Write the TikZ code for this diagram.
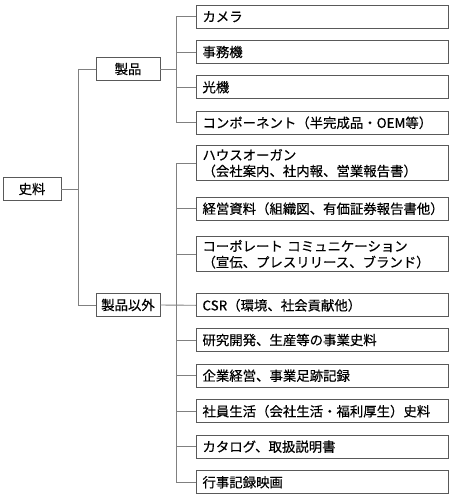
\documentclass[tikz,border=0pt]{standalone}
\usepackage{fontspec}
\setmainfont{Noto Sans CJK JP}[FakeBold=0.4]
\begin{document}
\begin{tikzpicture}[x=1pt,y=-1pt,
  box/.style={draw=black!65, line width=0.9pt, outer sep=0pt, font=\fontsize{13.4}{16}\selectfont, inner sep=0pt},
  leaf/.style={box, anchor=west, text width=239pt, inner xsep=6.5pt, minimum height=23pt, align=left},
  tall/.style={leaf, minimum height=35pt},
  mid/.style={box, minimum width=64pt, minimum height=22.5pt, align=center},
  conn/.style={draw=black!50, line width=0.9pt}]
\useasboundingbox (0,0) rectangle (450,503);
% root and groups
\node[box, minimum width=58pt, minimum height=23.5pt] (root) at (32,189) {史料};
\node[mid] (g1) at (128,69) {製品};
\node[mid] (g2) at (128,305) {製品以外};
% leaves of group 1
\node[leaf] (a1) at (196,16.7) {カメラ};
\node[leaf] (a2) at (196,52) {事務機};
\node[leaf] (a3) at (196,87.2) {光機};
\node[leaf] (a4) at (196,122.8) {コンポーネント（半完成品・OEM等）};
% leaves of group 2
\node[tall] (b1) at (196,163.2) {ハウスオーガン\\（会社案内、社内報、営業報告書）};
\node[leaf] (b2) at (196,208.7) {経営資料（組織図、有価証券報告書他）};
\node[tall] (b3) at (196,254.2) {コーポレート コミュニケーション\\（宣伝、プレスリリース、ブランド）};
\node[leaf] (b4) at (196,305.3) {CSR（環境、社会貢献他）};
\node[leaf] (b5) at (196,340) {研究開発、生産等の事業史料};
\node[leaf] (b6) at (196,375.7) {企業経営、事業足跡記録};
\node[leaf] (b7) at (196,411.3) {社員生活（会社生活・福利厚生）史料};
\node[leaf] (b8) at (196,446.7) {カタログ、取扱説明書};
\node[leaf] (b9) at (196,482.3) {行事記録映画};
% trunk coordinates
\coordinate (t0) at (78.3,0);
\coordinate (t1) at (176,0);
% root connectors
\draw[conn] (root.east) -- (root.east -| t0);
\draw[conn] (t0 |- g1.west) -- (t0 |- g2.west);
\draw[conn] (t0 |- g1.west) -- (g1.west);
\draw[conn] (t0 |- g2.west) -- (g2.west);
% group 1 connectors
\draw[conn] (g1.east) -- (g1.east -| t1);
\draw[conn] (t1 |- a1.west) -- (t1 |- a4.west);
\foreach \n in {a1,a2,a3,a4} \draw[conn] (t1 |- \n.west) -- (\n.west);
% group 2 connectors
\draw[conn] (g2.east) -- (b4.west);
\draw[conn] (t1 |- b1.west) -- (t1 |- b9.west);
\foreach \n in {b1,b2,b3,b5,b6,b7,b8,b9} \draw[conn] (t1 |- \n.west) -- (\n.west);
\end{tikzpicture}
\end{document}
